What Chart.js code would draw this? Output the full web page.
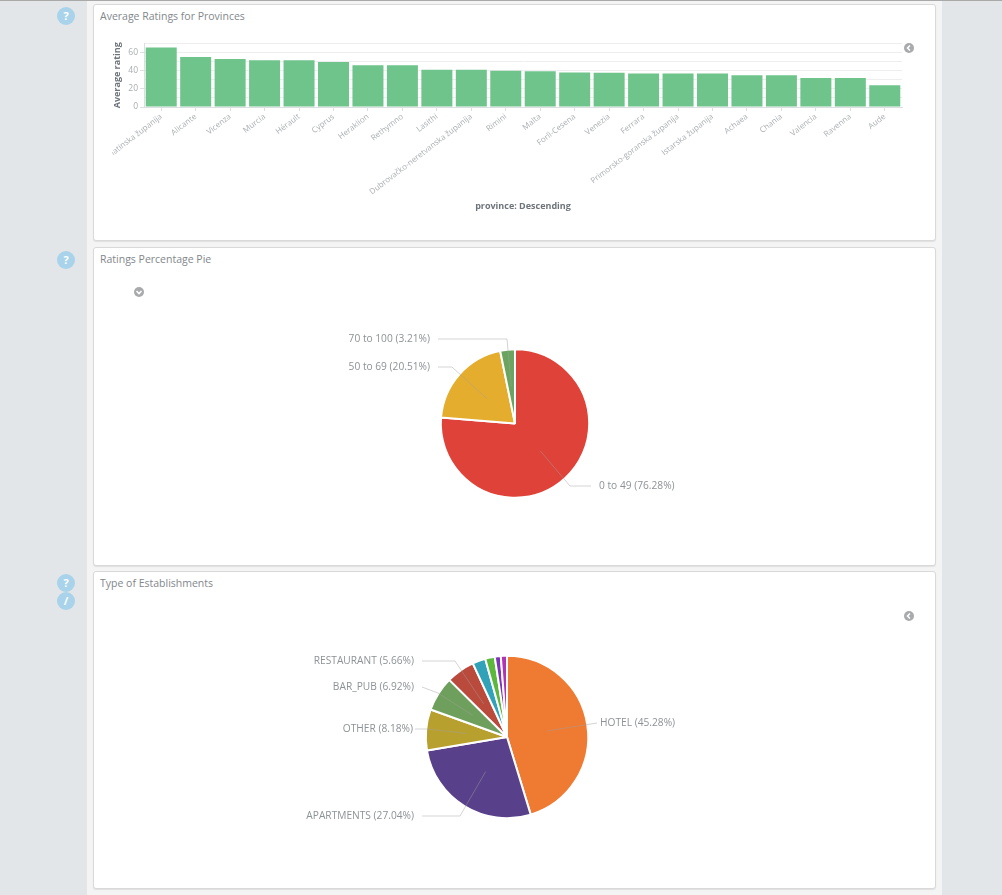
<!DOCTYPE html>
<html>
<head>
<meta charset="utf-8">
<script src="https://cdn.jsdelivr.net/npm/chart.js@4"></script>
<style>
  html, body { margin: 0; padding: 0; width: 1002px; height: 895px; overflow: hidden; background: #e3e6e9; font-family: "Open Sans", sans-serif; }
  #topline { position: absolute; left: 0; top: 0; width: 1002px; height: 1px; background: #a9a9a9; }
  #strip { position: absolute; left: 87px; top: 1px; width: 855px; height: 894px; background: #f4f4f4; }
  .card { position: absolute; left: 93px; width: 841px; background: #fff; border: 1px solid #d9d9d9; border-radius: 3px; box-shadow: 0 1px 1px rgba(0,0,0,.08); }
  .title { position: absolute; left: 100px; font-size: 10.5px; color: #82878c; white-space: nowrap; }
  canvas { position: absolute; }
  .help { position: absolute; left: 57px; width: 18px; height: 18px; border-radius: 50%; background: #a8d3ea; color: #fff; font: bold 11px/18px "Open Sans", sans-serif; text-align: center; }
  .toggle { position: absolute; width: 10px; height: 10px; border-radius: 50%; background: #a8aaac; }
  .toggle svg { position: absolute; left: 0; top: 0; }
</style>
</head>
<body>
<div id="topline"></div>
<div id="strip"></div>

<div class="card" style="top:4px;height:235px"></div>
<div class="card" style="top:247px;height:317px"></div>
<div class="card" style="top:571px;height:316px"></div>

<div class="help" style="top:7px">?</div>
<div class="help" style="top:251px">?</div>
<div class="help" style="top:574px">?</div>
<div class="help" style="top:592px">/</div>

<div class="title" style="top:9px">Average Ratings for Provinces</div>
<div class="title" style="top:252px">Ratings Percentage Pie</div>
<div class="title" style="top:576px">Type of Establishments</div>

<div class="toggle" style="left:904px;top:43px"><svg width="10" height="10"><path d="M6 2.5 L3.5 5 L6 7.5" fill="none" stroke="#fff" stroke-width="1.6"/></svg></div>
<div class="toggle" style="left:134px;top:287px"><svg width="10" height="10"><path d="M2.5 4 L5 6.5 L7.5 4" fill="none" stroke="#fff" stroke-width="1.6"/></svg></div>
<div class="toggle" style="left:904px;top:611px"><svg width="10" height="10"><path d="M6 2.5 L3.5 5 L6 7.5" fill="none" stroke="#fff" stroke-width="1.6"/></svg></div>

<canvas id="provinceChart" style="left:112px;top:30px;width:800px;height:182px"></canvas>
<canvas id="ratingChart" style="left:315px;top:323px;width:400px;height:201px"></canvas>
<canvas id="typeChart" style="left:297px;top:642px;width:420px;height:190px"></canvas>

<script>
const provinces = ["Splitsko-dalmatinska županija", "Alicante", "Vicenza", "Murcia", "Hérault", "Cyprus", "Heraklion", "Rethymno", "Lasithi", "Dubrovačko-neretvanska županija", "Rimini", "Malta", "Forlì-Cesena", "Venezia", "Ferrara", "Primorsko-goranska županija", "Istarska županija", "Achaea", "Chania", "Valencia", "Ravenna", "Aude"];
const avgRatings = [65.7, 55, 53, 51.5, 51.5, 49.7, 46, 46, 41, 41, 40, 39.3, 38, 37.7, 37, 37, 37, 35, 35, 32, 32, 24];

const ratingBands = ["0 to 49", "50 to 69", "70 to 100"];
const ratingShares = [76.28, 20.51, 3.21];
const ratingColors = ["#df4238", "#e5ad2d", "#6ba45f"];

const estTypes = ["HOTEL", "APARTMENTS", "OTHER", "BAR_PUB", "RESTAURANT", "", "", "", ""];
const estShares = [45.28, 27.04, 8.18, 6.92, 5.66, 2.6, 1.9, 1.2, 1.22];
const estColors = ["#ef7a32", "#58408a", "#b8a02f", "#6f9f5c", "#b94a3c", "#31a2b8", "#5cb83c", "#7b35b5", "#b035b5"];

// leader line bend, end and text gap, relative to the pie centre
const ratingCallouts = [[[55, 62.5], [76, 62.5], 8], [[-63, -56.5], [-77, -56.5], 8], [[-8, -84.5], [-77, -84.5], 8]];
const estCallouts = [[[90, -14], [90, -14], 3], [[-47, 79], [-85, 79], 8], [[-80, -8], [-92, -8], 2], [[-69, -44], [-85, -50], 8], [[-52, -76], [-85, -76], 8]];

Chart.defaults.animation = false;
Chart.defaults.font.family = '"Open Sans", sans-serif';

function noAutoPadding(scale, size) {
    scale.paddingLeft = 0
    scale.paddingRight = 0
    scale.paddingTop = 0
    scale.paddingBottom = 0
    if (scale.isHorizontal()) {
        scale.height = size
    } else {
        scale.width = size
    }
}

new Chart(document.getElementById("provinceChart"), {
    type: "bar",
    data: {
        labels: provinces,
        datasets: [{
            label: "Average rating",
            data: avgRatings,
            backgroundColor: "#6fc48c",
            barPercentage: 0.9,
            categoryPercentage: 1
        }]
    },
    options: {
        responsive: false,
        devicePixelRatio: 1,
        layout: { autoPadding: false, padding: { top: 13.5, right: 10 } },
        plugins: { legend: { display: false }, tooltip: { enabled: false } },
        scales: {
            x: {
                afterFit: scale => noAutoPadding(scale, 105),
                grid: { offset: false, drawOnChartArea: false, color: "#dcdfe0", tickLength: 4 },
                border: { color: "#dcdfe0" },
                ticks: { autoSkip: false, minRotation: 37.5, maxRotation: 37.5, color: "#a9adb0", font: { size: 8 }, padding: 1 },
                title: { display: true, text: "province: Descending", color: "#6e747a", font: { size: 9, weight: "bold" }, padding: 0 }
            },
            y: {
                min: 0,
                max: 70,
                afterFit: scale => noAutoPadding(scale, 32),
                grid: { color: "#eeeeee", tickColor: ctx => ctx.tick.value % 20 ? "transparent" : "#dcdfe0", tickLength: 4 },
                border: { color: "#dcdfe0" },
                ticks: { stepSize: 10, autoSkip: false, color: "#a9adb0", font: { size: 8.5 }, padding: 2, callback: v => v % 20 ? "" : v },
                title: { display: true, text: "Average rating", color: "#6e747a", font: { size: 9, weight: "bold" }, padding: 0 }
            }
        }
    }
});

// draws the leader lines and slice labels from the arcs themselves
const calloutPlugin = {
    id: "callouts",
    afterDatasetsDraw(chart, args, opts) {
        const { ctx } = chart
        const arcs = chart.getDatasetMeta(0).data
        const names = chart.data.labels
        const shares = chart.data.datasets[0].data
        ctx.save()
        ctx.font = '10.2px "Open Sans", sans-serif'
        ctx.textBaseline = "middle"
        opts.points.forEach((pts, i) => {
            if (!names[i]) return
            const arc = arcs[i]
            const mid = (arc.startAngle + arc.endAngle) / 2
            const sx = arc.x + Math.cos(mid) * arc.outerRadius / 2
            const sy = arc.y + Math.sin(mid) * arc.outerRadius / 2
            const ex = arc.x + pts[1][0]
            const ey = arc.y + pts[1][1]
            ctx.beginPath()
            ctx.moveTo(sx, sy)
            ctx.lineTo(arc.x + pts[0][0], arc.y + pts[0][1])
            ctx.lineTo(ex, ey)
            ctx.strokeStyle = "rgba(160,160,160,0.45)"
            ctx.lineWidth = 1
            ctx.stroke()
            const right = pts[1][0] > 0
            ctx.textAlign = right ? "left" : "right"
            ctx.fillStyle = "#8d9296"
            ctx.fillText(`${names[i]} (${shares[i].toFixed(2)}%)`, ex + (right ? pts[2] : -pts[2]), ey)
        })
        ctx.restore()
    }
}

function pieChart(id, labels, values, colors, radius, points) {
    new Chart(document.getElementById(id), {
        type: "pie",
        data: {
            labels: labels,
            datasets: [{
                data: values,
                backgroundColor: colors,
                borderColor: "#ffffff",
                borderWidth: 2,
                radius: radius
            }]
        },
        options: {
            responsive: false,
            devicePixelRatio: 1,
            plugins: { legend: { display: false }, tooltip: { enabled: false }, callouts: { points: points } }
        },
        plugins: [calloutPlugin]
    })
}

pieChart("ratingChart", ratingBands, ratingShares, ratingColors, 74.2, ratingCallouts)
pieChart("typeChart", estTypes, estShares, estColors, 81.2, estCallouts)
</script>
</body>
</html>
